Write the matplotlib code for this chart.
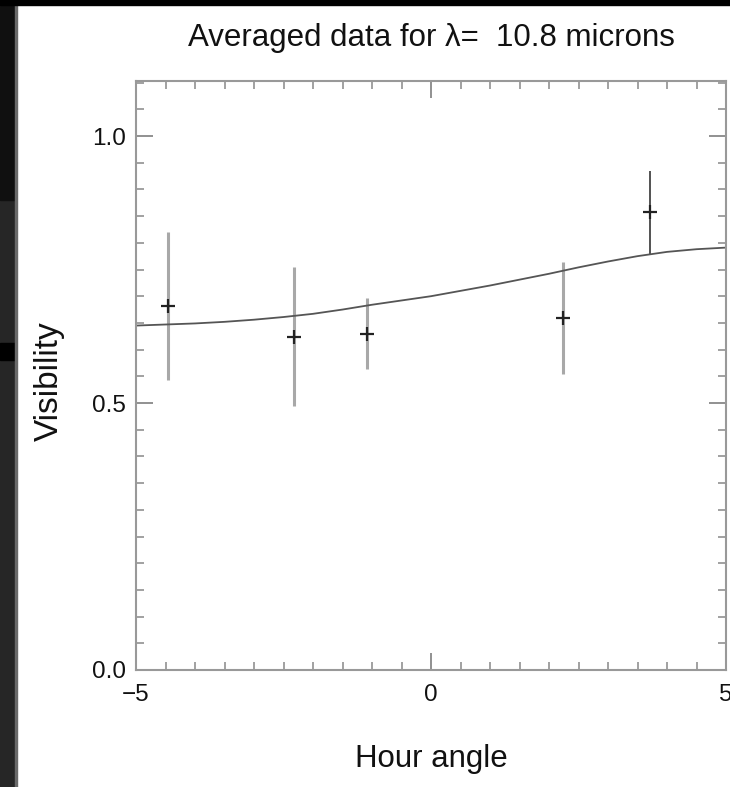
import matplotlib.pyplot as plt
from matplotlib.patches import Rectangle
from matplotlib.ticker import MultipleLocator

plt.rcParams['font.family'] = ['Liberation Sans', 'DejaVu Sans']

# averaged measurements
hour = [-4.46, -2.32, -1.09, 2.23, 3.72]
vis = [0.682, 0.624, 0.630, 0.659, 0.857]
vis_err = [0.138, 0.130, 0.067, 0.105, 0.078]

# model curve
model_hour = [-5.0, -4.5, -4.0, -3.5, -3.0, -2.5, -2.0, -1.5, -1.0, -0.5, 0.0,
              0.5, 1.0, 1.5, 2.0, 2.5, 3.0, 3.5, 4.0, 4.5, 5.0]
model_vis = [0.645, 0.647, 0.649, 0.652, 0.656, 0.661, 0.667, 0.675, 0.684, 0.692, 0.700,
             0.710, 0.720, 0.731, 0.742, 0.754, 0.765, 0.775, 0.783, 0.788, 0.791]

fig = plt.figure(figsize=(7.30, 7.87), dpi=100)
ax = fig.add_axes([136 / 730, 117 / 787, 590 / 730, 589 / 787])

ax.plot(model_hour, model_vis, color='#555555', linewidth=1.3, zorder=2)

# first four points have light error bars, last one darker
ax.errorbar(hour[:4], vis[:4], yerr=vis_err[:4], fmt='none', ecolor='#a8a8a8',
            elinewidth=2.2, capsize=0, zorder=1)
ax.errorbar(hour[4:], vis[4:], yerr=vis_err[4:], fmt='none', ecolor='#444444',
            elinewidth=1.3, capsize=0, zorder=1)
ax.plot(hour, vis, linestyle='none', marker='+', markersize=10,
        markeredgewidth=1.6, color='#222222', zorder=3)

ax.set_xlim(-5, 5)
ax.set_ylim(0, 1.103)
ax.xaxis.set_major_locator(MultipleLocator(5))
ax.xaxis.set_minor_locator(MultipleLocator(0.5))
ax.yaxis.set_major_locator(MultipleLocator(0.5))
ax.yaxis.set_minor_locator(MultipleLocator(0.05))
ax.yaxis.set_major_formatter(plt.FormatStrFormatter('%.1f'))

ax.tick_params(which='both', direction='in', top=True, right=True, color='#888888',
               labelsize=17.5, labelcolor='#111111')
ax.tick_params(which='major', length=12, width=1.3)
ax.tick_params(which='minor', length=6, width=1.1)
ax.tick_params(axis='x', pad=10)
ax.tick_params(axis='y', pad=7)
for s in ax.spines.values():
    s.set_color('#999999')
    s.set_linewidth(1.5)

fig.text(431 / 730, 1 - 38 / 787, 'Averaged data for λ=  10.8 microns',
         ha='center', va='center', fontsize=22.5, color='#111111')
fig.text(431 / 730, 1 - 767 / 787, 'Hour angle', ha='center', va='baseline',
         fontsize=22.5, color='#111111')
fig.text(49 / 730, 1 - 381 / 787, 'Visibility', ha='center', va='center',
         rotation=90, fontsize=24, color='#111111')

# dark screenshot border on the left and top
fig.patches.append(Rectangle((0, 0), 15 / 730, 1, transform=fig.transFigure,
                             color='#262626', zorder=10))
fig.patches.append(Rectangle((0, 1 - 200 / 787), 15 / 730, 200 / 787,
                             transform=fig.transFigure, color='#101010', zorder=11))
fig.patches.append(Rectangle((0, 1 - 360 / 787), 15 / 730, 17 / 787,
                             transform=fig.transFigure, color='#000000', zorder=11))
fig.patches.append(Rectangle((15 / 730, 0), 1.5 / 730, 1, transform=fig.transFigure,
                             color='#6a6a6a', zorder=11))
fig.patches.append(Rectangle((0, 1 - 5 / 787), 1, 5 / 787, transform=fig.transFigure,
                             color='#000000', zorder=12))

fig.savefig('out.png', dpi=100)
